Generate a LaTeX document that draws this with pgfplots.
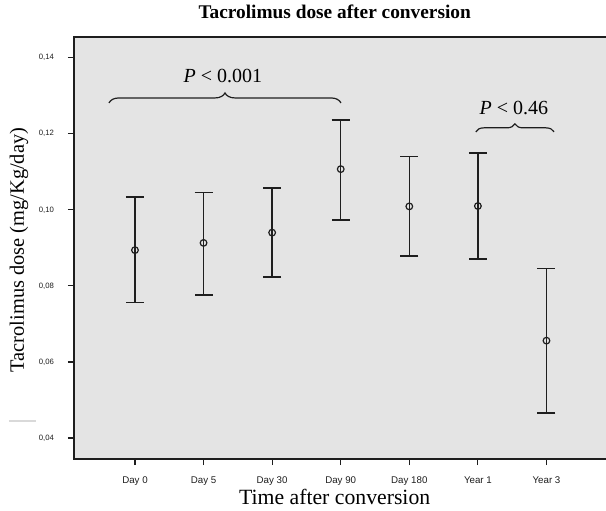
\documentclass[border=0pt]{standalone}
\usepackage{pgfplots}
\pgfplotsset{compat=1.18}
\usepackage{fontspec}
\setmainfont{Liberation Serif}
\newfontfamily\tickfont{Liberation Sans}
\usetikzlibrary{decorations.pathreplacing}
\definecolor{bg}{RGB}{228,228,228}
\definecolor{ink}{RGB}{30,30,30}
\begin{document}
\begin{tikzpicture}
\begin{axis}[
  at={(0,0)}, anchor=south west,
  scale only axis,
  width=399pt, height=316.5pt,
  xmin=-0.889, xmax=6.868,
  ymin=0.03448, ymax=0.14544,
  clip=false,
  axis background/.style={fill=bg},
  axis line style={draw=none},
  xtick={0,1,2,3,4,5,6},
  xticklabels={Day 0, Day 5, Day 30, Day 90, Day 180, Year 1, Year 3},
  ytick={0.04,0.06,0.08,0.10,0.12,0.14},
  xtick pos=lower, ytick pos=left,
  tick align=outside,
  major tick length=4.5pt,
  tick style={line width=0.9pt, color=ink},
  /pgf/number format/assume math mode=true,
  /pgf/number format/fixed,
  /pgf/number format/fixed zerofill,
  /pgf/number format/precision=2,
  /pgf/number format/use comma,
  yticklabel style={font=\tickfont\fontsize{5.8}{6}\selectfont, xshift=-7pt, text=ink},
  xticklabel style={font=\tickfont\fontsize{7.3}{8}\selectfont, yshift=-5pt, text=ink},
  scaled y ticks=false,
  xlabel={Time after conversion},
  xlabel style={at={(axis description cs:0.49,-0.09)}, anchor=center, font=\fontsize{16.3}{18}\selectfont},
  ylabel={Tacrolimus dose (mg/Kg/day)},
  ylabel style={at={(axis description cs:-0.1034,0.495)}, anchor=center, font=\fontsize{15.3}{17}\selectfont},
  title={\textbf{Tacrolimus dose after conversion}},
  title style={at={(axis description cs:0.49,1.0403)}, anchor=center, font=\fontsize{14.5}{16}\selectfont},
]
\addplot[only marks, mark=o, mark size=2.5pt, mark options={line width=0.9pt, ink},
  error bars/.cd, y dir=both, y explicit,
  error bar style={line width=1.15pt, ink},
  error mark options={rotate=90, mark size=6.75pt, line width=1.15pt, ink}]
coordinates {
 (0,0.0894) += (0,0.0139) -= (0,0.0138)
 (1,0.0913) += (0,0.0133) -= (0,0.0137)
 (2,0.0940) += (0,0.0117) -= (0,0.0117)
 (3,0.1107) += (0,0.0129) -= (0,0.0134)
 (4,0.1009) += (0,0.0131) -= (0,0.0130)
 (5,0.1010) += (0,0.0140) -= (0,0.0140)
 (6,0.0656) += (0,0.0190) -= (0,0.0190)
};
\draw[line width=1pt, ink] (rel axis cs:1,1) -- (rel axis cs:0,1) -- (rel axis cs:0,0) -- (rel axis cs:1,0);
\draw[line width=0.9pt, ink, decorate, decoration={brace, amplitude=7.5pt}] (axis cs:-0.379,0.1281) -- (axis cs:3.004,0.1281);
\draw[line width=0.9pt, ink, decorate, decoration={brace, amplitude=6pt}] (axis cs:4.97,0.1205) -- (axis cs:6.11,0.1205);
\node[font=\fontsize{15}{17}\selectfont, inner sep=0pt] at (axis cs:1.283,0.1352) {\textit{P} < 0.001};
\node[font=\fontsize{15}{17}\selectfont, inner sep=0pt] at (axis cs:5.526,0.1269) {\textit{P} < 0.46};
\end{axis}
\draw[line width=1.1pt, black!15] (-48.75pt,28.5pt) -- (-28.7pt,28.5pt);
\pgfresetboundingbox
\useasboundingbox (-55.5pt,-38.25pt) rectangle (399pt,344.25pt);
\end{tikzpicture}
\end{document}
